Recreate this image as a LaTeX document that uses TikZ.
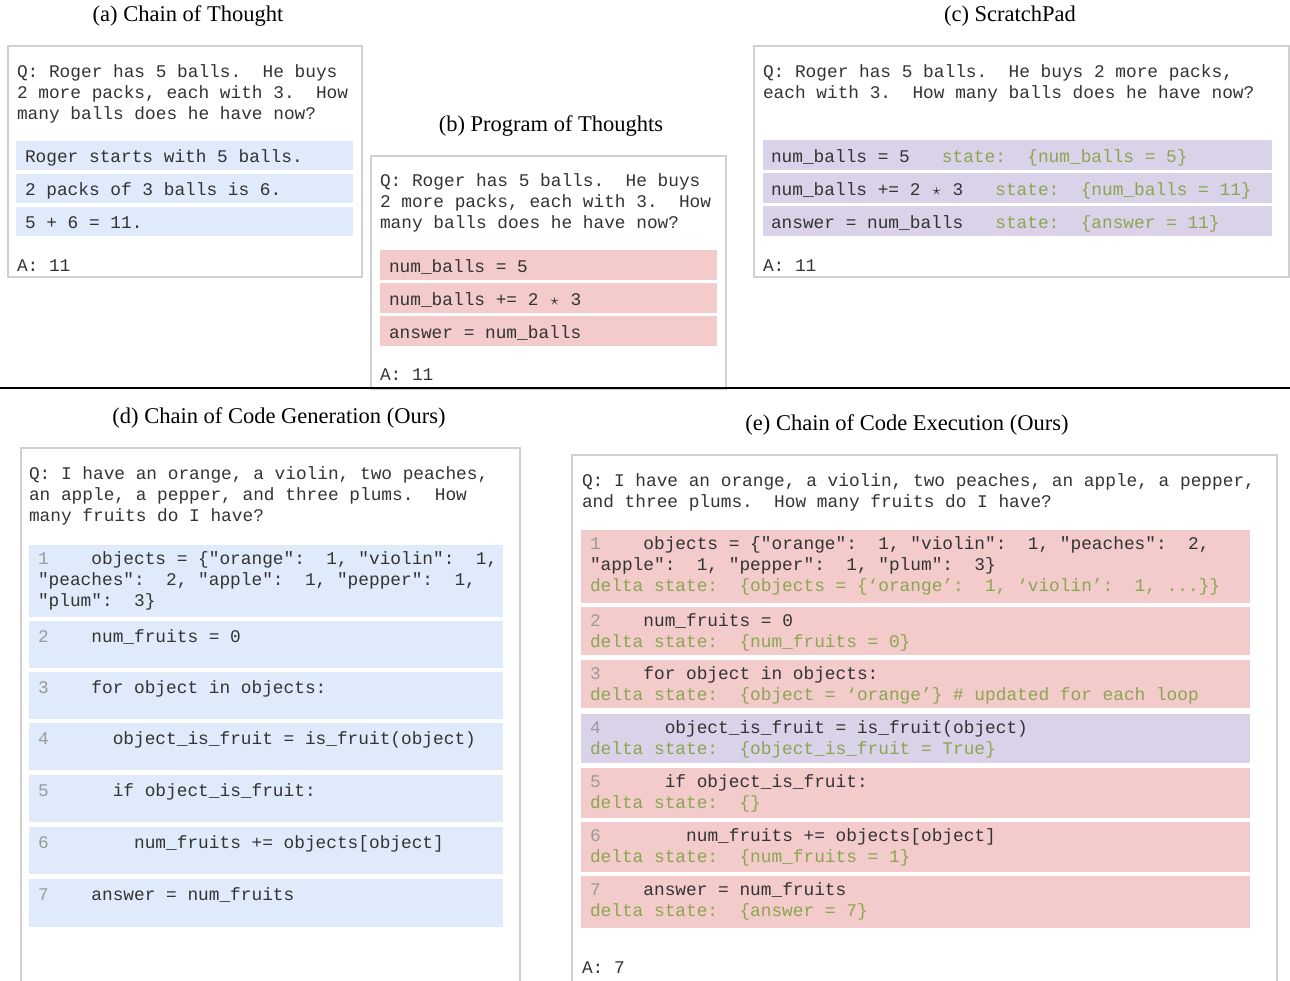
\documentclass[tikz,border=0pt]{standalone}
\usepackage{fontspec}
\setmainfont{Liberation Serif}
\setmonofont{Liberation Mono}
\usetikzlibrary{positioning}

\definecolor{framegray}{HTML}{D0D0D0}
\definecolor{cotblue}{HTML}{DFEBFB}
\definecolor{potred}{HTML}{F3CBCB}
\definecolor{padpurple}{HTML}{D9D2E9}
\definecolor{stategreen}{HTML}{8CA551}
\definecolor{codetext}{HTML}{333333}
\definecolor{linenum}{HTML}{9A9A9A}

\newcommand{\codefont}{\ttfamily\fontsize{17.8}{21}\selectfont\frenchspacing}
\newcommand{\lno}[1]{\textcolor{linenum}{#1}}
\newcommand{\statetxt}[1]{\textcolor{stategreen}{#1}}
\newcommand{\mulstar}{\makebox[0.6em]{$\star$}}

\begin{document}
\begin{tikzpicture}[x = 1pt, y = -1pt,
	panel/.style = {draw = framegray, line width = 1.2pt, anchor = north west, inner sep = 0, outer sep = 0},
	stepbox/.style = {anchor = north west, inner sep = 0, outer sep = 0},
	code/.style = {anchor = north west, inner sep = 0, outer sep = 0, align = left, font = \codefont, text = codetext, execute at begin node = \strut},
	caption/.style = {font = \fontsize{22.5}{26}\selectfont}]

\useasboundingbox (0, 0) rectangle (1290, 980);

% (a) Chain of Thought

\node [caption] (ta) at (188, 16) {(a) Chain of Thought};
\node [panel, minimum width = 354, minimum height = 231] (boxa) at (8, 46) {};
\node [code] (qa) at (17, 64.5) {Q: Roger has 5 balls.~ He buys\\2 more packs, each with 3.~ How\\many balls does he have now?};

\node [stepbox, fill = cotblue, minimum width = 337, minimum height = 29] (a1) at (16, 141) {};
\node [stepbox, fill = cotblue, minimum width = 337, minimum height = 29] (a2) at (16, 174) {};
\node [stepbox, fill = cotblue, minimum width = 337, minimum height = 29] (a3) at (16, 207) {};
\node [code, below right = 7pt and 9pt of a1.north west] (a1t) {Roger starts with 5 balls.};
\node [code, below right = 7pt and 9pt of a2.north west] (a2t) {2 packs of 3 balls is 6.};
\node [code, below right = 7pt and 9pt of a3.north west] (a3t) {5 + 6 = 11.};

\node [code] (ansa) at (17, 256.5) {A: 11};

% (b) Program of Thoughts

\node [caption] (tb) at (551, 126) {(b) Program of Thoughts};
\node [panel, minimum width = 355, minimum height = 233] (boxb) at (371, 156) {};
\node [code] (qb) at (380, 173.5) {Q: Roger has 5 balls.~ He buys\\2 more packs, each with 3.~ How\\many balls does he have now?};

\node [stepbox, fill = potred, minimum width = 337, minimum height = 30] (b1) at (380, 250) {};
\node [stepbox, fill = potred, minimum width = 337, minimum height = 30] (b2) at (380, 283) {};
\node [stepbox, fill = potred, minimum width = 337, minimum height = 30] (b3) at (380, 316) {};
\node [code, below right = 7.5pt and 9pt of b1.north west] (b1t) {num\_balls = 5};
\node [code, below right = 7.5pt and 9pt of b2.north west] (b2t) {num\_balls += 2 \mulstar{} 3};
\node [code, below right = 7.5pt and 9pt of b3.north west] (b3t) {answer = num\_balls};

\node [code] (ansb) at (380, 365.5) {A: 11};

% (c) ScratchPad

\node [caption] (tc) at (1010, 16) {(c) ScratchPad};
\node [panel, minimum width = 535, minimum height = 231] (boxc) at (754, 46) {};
\node [code] (qc) at (763, 64.5) {Q: Roger has 5 balls.~ He buys 2 more packs,\\each with 3.~ How many balls does he have now?};

\node [stepbox, fill = padpurple, minimum width = 509, minimum height = 30] (c1) at (763, 140) {};
\node [stepbox, fill = padpurple, minimum width = 509, minimum height = 30] (c2) at (763, 173) {};
\node [stepbox, fill = padpurple, minimum width = 509, minimum height = 30] (c3) at (763, 206) {};
\node [code, below right = 7.5pt and 8pt of c1.north west] (c1t) {num\_balls = 5~~~\statetxt{state:~~\{num\_balls = 5\}}};
\node [code, below right = 7.5pt and 8pt of c2.north west] (c2t) {num\_balls += 2 \mulstar{} 3~~~\statetxt{state:~~\{num\_balls = 11\}}};
\node [code, below right = 7.5pt and 8pt of c3.north west] (c3t) {answer = num\_balls~~~\statetxt{state:~~\{answer = 11\}}};

\node [code] (ansc) at (763, 256.5) {A: 11};

% Separator

\draw [line width = 1.6pt] (0, 388) -- (1290, 388);

% (d) Chain of Code Generation

\node [caption] (td) at (279, 418) {(d) Chain of Code Generation (Ours)};
\node [panel, minimum width = 499, minimum height = 534] (boxd) at (21, 448) {};
\node [code] (qd) at (29, 466.5) {Q: I have an orange, a violin, two peaches,\\an apple, a pepper, and three plums.~ How\\many fruits do I have?};

\node [stepbox, fill = cotblue, minimum width = 474, minimum height = 72] (d1) at (29, 545) {};
\node [stepbox, fill = cotblue, minimum width = 474, minimum height = 47] (d2) at (29, 621) {};
\node [stepbox, fill = cotblue, minimum width = 474, minimum height = 47] (d3) at (29, 672) {};
\node [stepbox, fill = cotblue, minimum width = 474, minimum height = 47] (d4) at (29, 723) {};
\node [stepbox, fill = cotblue, minimum width = 474, minimum height = 47] (d5) at (29, 775) {};
\node [stepbox, fill = cotblue, minimum width = 474, minimum height = 47] (d6) at (29, 827) {};
\node [stepbox, fill = cotblue, minimum width = 474, minimum height = 48] (d7) at (29, 879) {};
\node [code, below right = 6.5pt and 9pt of d1.north west] (d1t) {\lno{1}~~~~objects = \{"orange":~~1, "violin":~~1,\\"peaches":~~2, "apple":~~1, "pepper":~~1,\\"plum":~~3\}};
\node [code, below right = 6.5pt and 9pt of d2.north west] (d2t) {\lno{2}~~~~num\_fruits = 0};
\node [code, below right = 6.5pt and 9pt of d3.north west] (d3t) {\lno{3}~~~~for object in objects:};
\node [code, below right = 6.5pt and 9pt of d4.north west] (d4t) {\lno{4}~~~~~~object\_is\_fruit = is\_fruit(object)};
\node [code, below right = 6.5pt and 9pt of d5.north west] (d5t) {\lno{5}~~~~~~if object\_is\_fruit:};
\node [code, below right = 6.5pt and 9pt of d6.north west] (d6t) {\lno{6}~~~~~~~~num\_fruits += objects[object]};
\node [code, below right = 6.5pt and 9pt of d7.north west] (d7t) {\lno{7}~~~~answer = num\_fruits};

% (e) Chain of Code Execution

\node [caption] (te) at (907, 425) {(e) Chain of Code Execution (Ours)};
\node [panel, minimum width = 705, minimum height = 527] (boxe) at (572, 455) {};
\node [code] (qe) at (582, 473.5) {Q: I have an orange, a violin, two peaches, an apple, a pepper,\\and three plums.~ How many fruits do I have?};

\node [stepbox, fill = potred, minimum width = 669, minimum height = 73] (e1) at (581, 530) {};
\node [stepbox, fill = potred, minimum width = 669, minimum height = 48] (e2) at (581, 607) {};
\node [stepbox, fill = potred, minimum width = 669, minimum height = 48] (e3) at (581, 660) {};
\node [stepbox, fill = padpurple, minimum width = 669, minimum height = 49] (e4) at (581, 714) {};
\node [stepbox, fill = potred, minimum width = 669, minimum height = 50] (e5) at (581, 768) {};
\node [stepbox, fill = potred, minimum width = 669, minimum height = 50] (e6) at (581, 822) {};
\node [stepbox, fill = potred, minimum width = 669, minimum height = 52] (e7) at (581, 876) {};
\node [code, below right = 7pt and 9pt of e1.north west] (e1t) {\lno{1}~~~~objects = \{"orange":~~1, "violin":~~1, "peaches":~~2,\\"apple":~~1, "pepper":~~1, "plum":~~3\}\\\statetxt{delta state:~~\{objects = \{‘orange’:~~1, ‘violin’:~~1, ...\}\}}};
\node [code, below right = 7pt and 9pt of e2.north west] (e2t) {\lno{2}~~~~num\_fruits = 0\\\statetxt{delta state:~~\{num\_fruits = 0\}}};
\node [code, below right = 7pt and 9pt of e3.north west] (e3t) {\lno{3}~~~~for object in objects:\\\statetxt{delta state:~~\{object = ‘orange’\} \# updated for each loop}};
\node [code, below right = 7pt and 9pt of e4.north west] (e4t) {\lno{4}~~~~~~object\_is\_fruit = is\_fruit(object)\\\statetxt{delta state:~~\{object\_is\_fruit = True\}}};
\node [code, below right = 7pt and 9pt of e5.north west] (e5t) {\lno{5}~~~~~~if object\_is\_fruit:\\\statetxt{delta state:~~\{\}}};
\node [code, below right = 7pt and 9pt of e6.north west] (e6t) {\lno{6}~~~~~~~~num\_fruits += objects[object]\\\statetxt{delta state:~~\{num\_fruits = 1\}}};
\node [code, below right = 7pt and 9pt of e7.north west] (e7t) {\lno{7}~~~~answer = num\_fruits\\\statetxt{delta state:~~\{answer = 7\}}};

\node [code] (anse) at (582, 958.5) {A: 7};

\end{tikzpicture}
\end{document}
